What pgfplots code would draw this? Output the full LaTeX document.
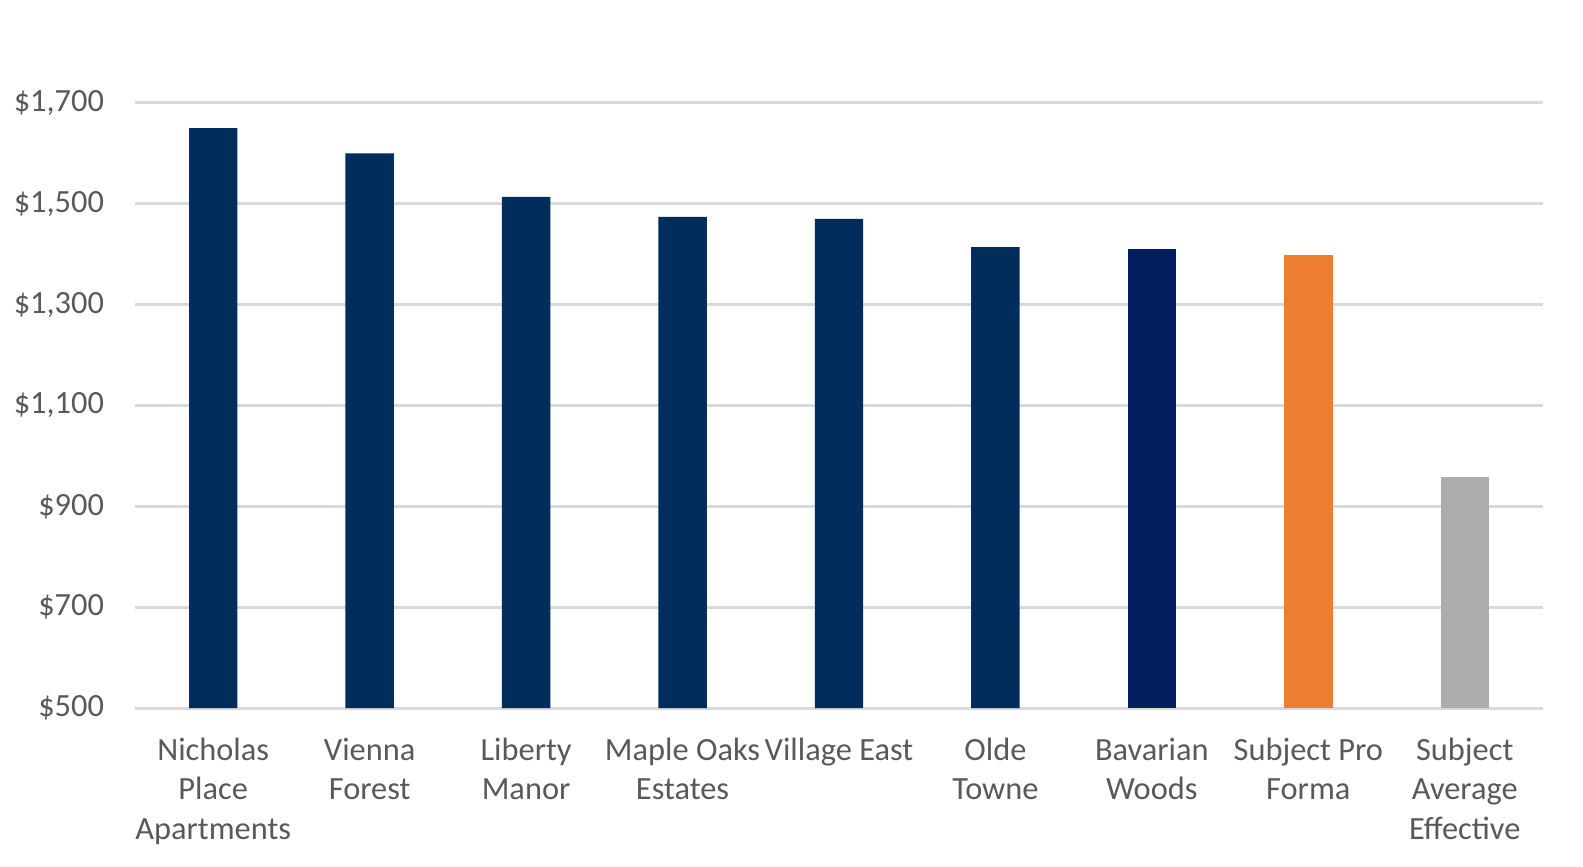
\documentclass[border=0pt]{standalone}
\usepackage{fontspec}
\setmainfont{Carlito}
\usepackage{pgfplots}
\pgfplotsset{compat=1.18}
\definecolor{navyA}{RGB}{0,45,91}
\definecolor{navyB}{RGB}{0,31,92}
\definecolor{orangeA}{RGB}{237,125,49}
\definecolor{grayA}{RGB}{174,171,171}
\definecolor{gridc}{RGB}{217,217,217}
\definecolor{txt}{RGB}{89,89,89}
\begin{document}
\begin{tikzpicture}
\begin{axis}[
  at={(0,0)}, anchor=south west,
  scale only axis,
  width=704bp, height=302.5bp,
  ybar,
  xmin=-0.5, xmax=8.5,
  ymin=500, ymax=1700,
  ytick={500,700,900,1100,1300,1500,1700},
  yticklabels={{\$500},{\$700},{\$900},{\$1,100},{\$1,300},{\$1,500},{\$1,700}},
  xtick={0,1,2,3,4,5,6,7,8},
  xticklabels={{Nicholas\\Place\\Apartments}, {Vienna\\Forest}, {Liberty\\Manor}, {Maple Oaks\\Estates}, {Village East}, {Olde\\Towne}, {Bavarian\\Woods}, {Subject Pro\\Forma}, {Subject\\Average\\Effective}},
  xticklabel style={align=center, anchor=north, yshift=-11.5bp, font=\fontsize{16.2bp}{19.7bp}\selectfont, text=txt},
  yticklabel style={anchor=east, xshift=-12bp, font=\fontsize{16.2bp}{19.7bp}\selectfont, text=txt},
  major tick length=0pt,
  axis line style={draw=none},
  ymajorgrids, grid style={gridc, line width=1.5bp},
  bar width=24.2bp,
  clip=true,
]
\addplot[fill=navyA, draw=none, bar shift=0pt] coordinates {(0,1650) (1,1600) (2,1514) (3,1474) (4,1470) (5,1414)};
\addplot[fill=navyB, draw=none, bar shift=0pt] coordinates {(6,1410)};
\addplot[fill=orangeA, draw=none, bar shift=0pt] coordinates {(7,1398)};
\addplot[fill=grayA, draw=none, bar shift=0pt] coordinates {(8,959)};
\end{axis}
\pgfresetboundingbox
\path[use as bounding box] (-67.5bp,-79.5bp) rectangle (724bp,354bp);
\end{tikzpicture}
\end{document}
